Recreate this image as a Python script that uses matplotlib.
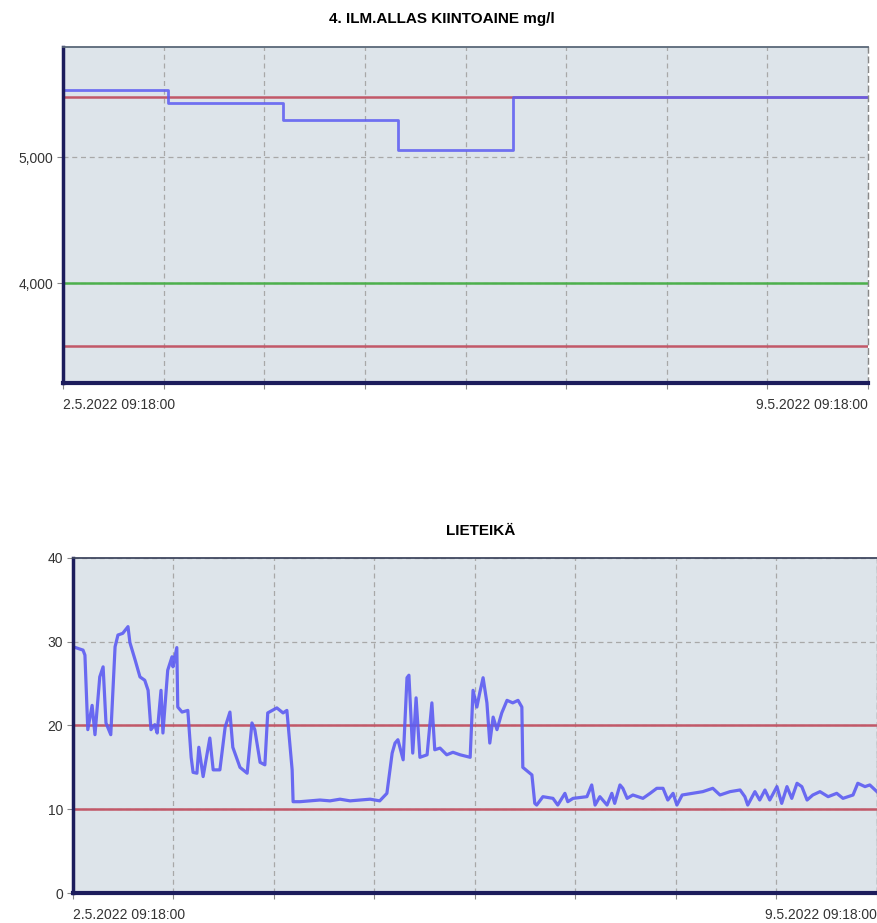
import matplotlib
matplotlib.use("Agg")
import matplotlib.pyplot as plt
from matplotlib.ticker import FuncFormatter

plt.rcParams["font.family"] = ["Liberation Sans", "DejaVu Sans"]

# time axis: hours after 2.5.2022 09:18:00, 7 days shown
span_h = 168
grid_step_h = 21
start_label = "2.5.2022 09:18:00"
end_label = "9.5.2022 09:18:00"

# ── chart 1: 4. ILM.ALLAS KIINTOAINE mg/l (stepped lab values) ──
kiinto_t = [0, 21.8, 45.8, 69.8, 93.8, 168]
kiinto_v = [5532, 5429, 5294, 5056, 5480, 5480]
kiinto_hi = 5480
kiinto_lo = 3500
kiinto_target = 4000

# ── chart 2: LIETEIKÄ (sludge age) ──
liete_t = [0, 2.1, 2.5, 3.1, 4.0, 4.6, 5.6, 6.3, 6.9, 7.9, 8.8, 9.4, 10.4, 11.5,
           11.9, 13.0, 14.0, 15.0, 15.7, 16.3, 17.1, 17.6, 18.4, 18.8, 19.8,
           20.7, 20.9, 21.7, 21.9, 22.8, 24.0, 24.7, 25.1, 25.9, 26.3, 27.2,
           28.6, 29.3, 30.7, 31.8, 32.8, 33.4, 34.9, 36.4, 37.4, 38.0, 39.1,
           40.1, 40.7, 42.6, 43.9, 44.7, 45.8, 46.0, 47.4, 49.5, 51.6, 53.7,
           55.8, 57.9, 60.0, 62.1, 64.1, 65.6, 66.7, 67.3, 67.9, 69.0, 69.8,
           70.2, 71.0, 71.7, 72.5, 74.0, 75.0, 75.6, 76.7, 78.1, 79.4, 80.9,
           83.0, 83.6, 84.4, 85.0, 85.7, 86.5, 87.1, 87.8, 88.6, 89.6, 90.7,
           91.9, 93.0, 93.8, 94.0, 95.5, 95.9, 96.5, 96.9, 98.2, 100.3, 101.3,
           102.8, 103.4, 104.5, 107.4, 108.4, 109.1, 110.1, 111.6, 112.6, 113.2,
           114.3, 114.9, 115.8, 117.0, 119.1, 120.6, 122.0, 123.3, 124.3, 125.4,
           126.2, 127.3, 129.5, 131.6, 133.7, 135.2, 137.3, 139.4, 140.4, 141.0,
           142.5, 143.5, 144.6, 145.6, 147.1, 148.1, 149.2, 150.2, 151.3, 152.3,
           153.4, 154.6, 156.1, 157.8, 159.6, 160.9, 163.0, 164.0, 165.5, 166.5,
           168.0]
liete_v = [29.4, 29.0, 28.4, 19.5, 22.4, 18.9, 25.8, 27.0, 20.3, 18.9, 29.4, 30.8,
           31.0, 31.8, 29.9, 27.8, 25.8, 25.4, 24.2, 19.5, 20.1, 19.1, 24.2, 19.1,
           26.6, 28.2, 27.0, 29.3, 22.2, 21.6, 21.8, 16.2, 14.4, 14.3, 17.4, 13.9,
           18.5, 14.7, 14.7, 19.8, 21.6, 17.4, 15.0, 14.3, 20.3, 19.5, 15.6, 15.3,
           21.5, 22.1, 21.5, 21.8, 14.7, 10.9, 10.9, 11.0, 11.1, 11.0, 11.2, 11.0,
           11.1, 11.2, 11.0, 11.9, 16.7, 17.9, 18.3, 15.9, 25.7, 26.0, 16.7, 23.3,
           16.2, 16.5, 22.7, 17.1, 17.3, 16.5, 16.8, 16.5, 16.2, 24.2, 22.2, 23.9,
           25.7, 22.7, 17.9, 21.0, 19.5, 21.5, 23.0, 22.7, 23.0, 22.2, 15.0, 14.3,
           14.1, 10.7, 10.5, 11.5, 11.3, 10.5, 11.9, 10.9, 11.3, 11.5, 12.9, 10.5,
           11.5, 10.5, 11.9, 10.7, 12.9, 12.5, 11.3, 11.7, 11.3, 11.9, 12.5, 12.5,
           11.1, 11.9, 10.5, 11.7, 11.9, 12.1, 12.5, 11.7, 12.1, 12.3, 11.5, 10.5,
           12.1, 11.1, 12.3, 11.1, 12.7, 10.7, 12.7, 11.3, 13.1, 12.7, 11.1, 11.7,
           12.1, 11.5, 11.9, 11.3, 11.7, 13.1, 12.7, 12.9, 12.1]
liete_hi = 20
liete_lo = 10

BG = "#dde4ea"
GRID = "#a8a8a8"
NAVY = "#1c1c5c"
RED = "#c25868"
GREEN = "#4cb04c"
BLUE = "#5c5cf2"


def style_axes(ax, ylim, yticks, fmt):
    ax.set_facecolor(BG)
    ax.set_xlim(0, span_h)
    ax.set_ylim(*ylim)
    ax.set_yticks(yticks)
    ax.yaxis.set_major_formatter(FuncFormatter(fmt))
    ticks = list(range(0, span_h + 1, grid_step_h))
    ax.set_xticks(ticks)
    labels = [""] * len(ticks)
    labels[0], labels[-1] = start_label, end_label
    ax.set_xticklabels(labels)
    tl = ax.get_xticklabels()
    tl[0].set_horizontalalignment("left")
    tl[-1].set_horizontalalignment("right")
    ax.grid(True, color=GRID, ls=(0, (4, 3)), lw=0.9)
    ax.tick_params(axis="both", length=4, width=0.8, color="#888888",
                   labelsize=10, labelcolor="#333333")
    ax.tick_params(axis="x", pad=7)
    ax.tick_params(axis="y", pad=3)
    ax.spines["left"].set_color(NAVY)
    ax.spines["left"].set_linewidth(2.5)
    ax.spines["bottom"].set_color(NAVY)
    ax.spines["bottom"].set_linewidth(3)
    ax.spines["top"].set_color("#5a6878")
    ax.spines["top"].set_linewidth(1.3)
    ax.spines["right"].set_color("#888888")
    ax.spines["right"].set_linestyle((0, (4, 3)))
    ax.spines["right"].set_linewidth(1)


fig = plt.figure(figsize=(8.78, 9.23), dpi=100)

# top panel
ax1 = fig.add_axes([0.0718, 0.585, 0.9169, 0.364])
style_axes(ax1, (3210, 5873), [4000, 5000], lambda v, p: f"{v:,.0f}")
ax1.axhline(kiinto_target, color=GREEN, lw=1.8)
ax1.axhline(kiinto_lo, color=RED, lw=1.8)
ax1.axhline(kiinto_hi, color=RED, lw=1.8)
ax1.step(kiinto_t, kiinto_v, where="post", color=BLUE, lw=2.0, alpha=0.85)
fig.text(0.503, 0.979, "4. ILM.ALLAS KIINTOAINE mg/l", ha="center", va="center",
         fontsize=11, fontweight="bold")

# bottom panel
ax2 = fig.add_axes([0.0831, 0.0325, 0.9157, 0.363])
style_axes(ax2, (0, 40), [0, 10, 20, 30, 40], lambda v, p: f"{v:.0f}")
ax2.spines["top"].set_linestyle((0, (2, 1)))
ax2.spines["top"].set_color("#404860")
ax2.axhline(liete_hi, color=RED, lw=1.8)
ax2.axhline(liete_lo, color=RED, lw=1.8)
ax2.plot(liete_t, liete_v, color=BLUE, lw=2.3, alpha=0.9)
fig.text(0.548, 0.425, "LIETEIKÄ", ha="center", va="center",
         fontsize=11, fontweight="bold")

plt.savefig("out.png", dpi=100)
